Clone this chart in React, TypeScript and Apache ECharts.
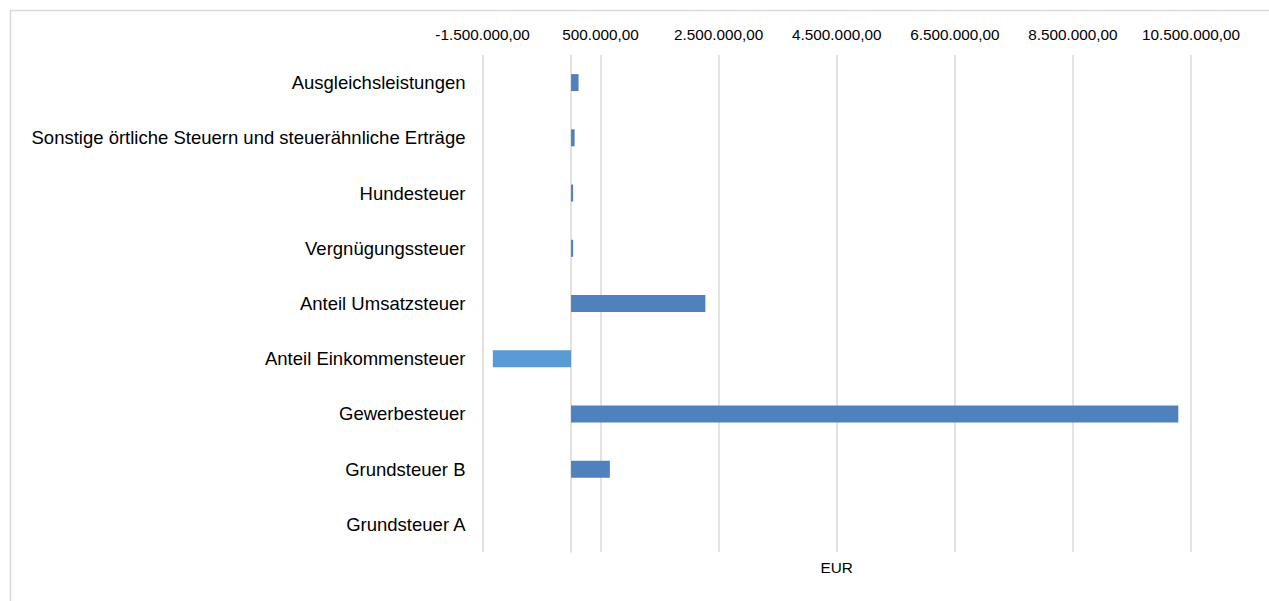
import React, { useEffect, useRef } from "react";
import * as echarts from "echarts";

const categories = [
  "Grundsteuer A",
  "Grundsteuer B",
  "Gewerbesteuer",
  "Anteil Einkommensteuer",
  "Anteil Umsatzsteuer",
  "Vergnügungssteuer",
  "Hundesteuer",
  "Sonstige örtliche Steuern und steuerähnliche Erträge",
  "Ausgleichsleistungen",
];
const values = [0, 657000, 10285000, -1325000, 2275000, 35000, 35000, 60000, 127000];
const tickValues = [-1500000, 500000, 2500000, 4500000, 6500000, 8500000, 10500000];
const axisMin = -1500000;
const axisMax = 10500000;
const positiveColor = "#4F81BD";
const negativeColor = "#5B9BD5";

function formatDE(v: number): string {
  const neg = v < 0;
  const abs = Math.abs(v);
  const intPart = Math.floor(abs);
  const frac = Math.round((abs - intPart) * 100);
  const s = String(intPart).replace(/\B(?=(\d{3})+(?!\d))/g, ".");
  return (neg ? "-" : "") + s + "," + String(frac).padStart(2, "0");
}

export default function App() {
  const ref = useRef<HTMLDivElement>(null);
  useEffect(() => {
    if (!ref.current) return;
    const chart = echarts.init(ref.current, undefined, { renderer: "svg" });
    const font = "'Liberation Sans', Arial, sans-serif";
    chart.setOption({
      animation: false,
      backgroundColor: "#ffffff",
      textStyle: { fontFamily: font },
      graphic: [
        {
          type: "rect",
          shape: { x: 10.5, y: 10.5, width: 1400, height: 800 },
          style: { fill: "none", stroke: "#d9d9d9", lineWidth: 1.5 },
          silent: true,
        },
      ],
      grid: {
        left: 482.5,
        right: 78,
        top: 55,
        bottom: 49,
        containLabel: false,
        outerBoundsMode: "none",
      },
      xAxis: [
        {
          type: "value",
          position: "top",
          min: axisMin,
          max: axisMax,
          axisLine: { show: false },
          axisTick: { show: false, customValues: tickValues },
          axisLabel: {
            customValues: tickValues,
            formatter: (v: number) => formatDE(v),
            fontSize: 15.3,
            color: "#000",
            fontFamily: font,
            margin: 13,
          },
          splitLine: { show: true, lineStyle: { color: "#d9d9d9", width: 1.5 } },
        },
        {
          type: "value",
          position: "bottom",
          min: axisMin,
          max: axisMax,
          name: "EUR",
          nameLocation: "middle",
          nameGap: 8,
          nameTextStyle: { fontSize: 15.3, color: "#000", fontFamily: font, verticalAlign: "top" },
          axisLine: { show: false },
          axisTick: { show: false },
          axisLabel: { show: false },
          splitLine: { show: false },
        },
      ],
      yAxis: {
        type: "category",
        data: categories,
        axisLine: { show: true, onZero: true, lineStyle: { color: "#d9d9d9", width: 1.5 } },
        axisTick: { show: false },
        axisLabel: { fontSize: 18.5, color: "#000", fontFamily: font, margin: 17 },
        splitLine: { show: false },
      },
      series: [
        {
          type: "bar",
          xAxisIndex: 0,
          barWidth: 17,
          data: values.map((v) => ({
            value: v,
            itemStyle: { color: v < 0 ? negativeColor : positiveColor },
          })),
        },
      ],
    });
    return () => chart.dispose();
  }, []);
  return (
    <div
      ref={ref}
      style={{ position: "fixed", left: 0, top: 0, width: 1269, height: 601 }}
    />
  );
}
